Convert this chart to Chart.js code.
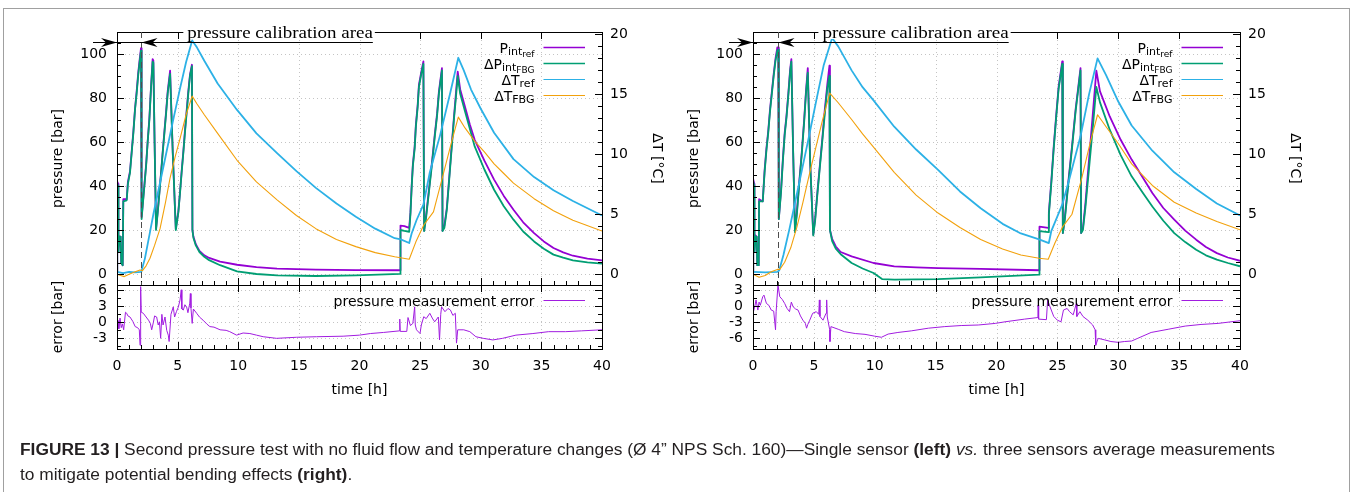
<!DOCTYPE html>
<html>
<head>
<meta charset="utf-8">
<title>Second pressure test</title>
<script src="https://cdn.jsdelivr.net/npm/chart.js@4.4.1/dist/chart.umd.min.js"></script>
<style>
  body { margin: 0; width: 1351px; height: 492px; overflow: hidden; position: relative; background: #fff; }
  canvas { position: absolute; left: 0; top: 0; }
  #frame { position: absolute; left: 3px; top: 8px; width: 1345px; height: 560px; border: 1px solid #a0a0a0; }
  #caption { position: absolute; left: 20px; top: 437px; font: 16px 'Liberation Sans', Arial, sans-serif; line-height: 25px; color: #231f20; white-space: nowrap; transform-origin: 0 0; }
</style>
</head>
<body>
<div id="frame"></div>
<canvas id="mainL" width="1351" height="492"></canvas>
<canvas id="errL" width="1351" height="492"></canvas>
<canvas id="mainR" width="1351" height="492"></canvas>
<canvas id="errR" width="1351" height="492"></canvas>
<div id="caption"><span id="line1"><b>FIGURE 13 |</b> Second pressure test with no fluid flow and temperature changes (Ø 4” NPS Sch. 160)—Single sensor <b>(left)</b> <i>vs.</i> three sensors average measurements</span><br>to mitigate potential bending effects <b>(right)</b>.</div>
<script>
// values, time in hours
const timeTicks = [0, 5, 10, 15, 20, 25, 30, 35, 40];
const pressureTicks = [0, 20, 40, 60, 80, 100];
const tempTicks = [0, 5, 10, 15, 20];
const errTicksL = [-3, 0, 3, 6];
const errTicksR = [-6, -3, 0, 3];

// left panel: single sensor  [t, value]
const pRefL = [[0,0.5],[0.02,42],[0.1,41],[0.12,10],[0.2,17],[0.3,17],[0.35,5],[0.47,4],[0.52,34],[0.8,34],
  [0.9,42],[1.07,46.6],[1.21,55.7],[1.35,64.8],[1.49,75.4],[1.62,83],[1.76,92],[1.88,98],[1.98,102.7],[2.03,26],
  [2.12,31.5],[2.26,40.6],[2.4,49.7],[2.53,60.3],[2.67,70.9],[2.8,84.5],[2.94,97.7],[3.0,97],[3.1,60],[3.22,20.6],
  [3.36,28.5],[3.5,37.5],[3.64,46.6],[3.77,55.7],[3.91,64.8],[4.05,73.9],[4.18,83],[4.38,92.4],[4.6,55],[4.85,20.5],
  [5.06,28.5],[5.2,37.5],[5.33,46.6],[5.47,55.7],[5.6,64.8],[5.74,73.9],[5.88,83],[6.02,90.6],[6.18,95.1],[6.22,20],
  [6.3,17],[6.5,13.5],[6.8,10.5],[7.2,8.5],[7.6,7.3],[8.5,5.6],[9.9,4.2],[11.5,3.1],[13.2,2.4],[16.4,2.0],
  [19.7,1.8],[23.35,1.7],[23.38,22],[23.7,21.8],[24.1,21],[24.2,28],[24.3,40],[24.4,49.7],[24.55,58],[24.65,67.9],
  [24.8,77],[24.9,86],[25.1,92],[25.27,96.6],[25.33,19.7],[25.5,27],[25.8,42],[26.0,52],[26.2,63],[26.4,73],
  [26.55,83],[26.8,93.6],[26.85,19.7],[27.0,22],[27.2,30],[27.5,51],[27.8,72],[27.95,82],[28.1,92],[28.3,84],
  [28.7,76],[29.1,68],[29.5,61],[30.3,51.5],[31.1,42.9],[31.9,35.5],[32.7,29.2],[33.5,23.5],[34.4,18.6],[35.2,14.8],
  [36,11.8],[36.8,9.8],[37.6,8.3],[38.8,7.0],[40,6.2]];
const pFbgL = [[0,0.3],[0.02,41],[0.1,40],[0.12,10],[0.2,17],[0.3,17],[0.35,5],[0.47,4],[0.52,33],[0.8,33.5],
  [0.9,41],[1.07,46],[1.21,55],[1.35,64],[1.49,75],[1.62,82],[1.76,91],[1.88,97],[1.98,101.5],[2.03,25],
  [2.12,31],[2.26,40],[2.4,49],[2.53,60],[2.67,70],[2.8,84],[2.94,96.5],[3.0,96],[3.1,60],[3.22,20],
  [3.36,28],[3.5,37],[3.64,46],[3.77,55],[3.91,64],[4.05,73],[4.18,82],[4.38,91],[4.6,55],[4.85,20],
  [5.06,28],[5.2,37],[5.33,46],[5.47,55],[5.6,64],[5.74,73],[5.88,82],[6.02,90],[6.18,94.5],[6.22,20],
  [6.3,16.5],[6.5,13],[6.8,10],[7.2,7.8],[7.6,6.3],[8.5,4.0],[9.9,1.2],[11.5,0],[13.2,-0.6],[16.4,-0.9],
  [19.7,-0.6],[23.35,0.1],[23.38,20],[23.7,19.6],[24.1,19.2],[24.2,27],[24.3,39],[24.4,49],[24.55,57],[24.65,67],
  [24.8,76],[24.9,85],[25.1,91],[25.27,95.5],[25.33,19.5],[25.5,26],[25.8,41],[26.0,51],[26.2,62],[26.4,72],
  [26.55,82],[26.8,92.5],[26.85,19.5],[27.0,21],[27.2,29],[27.5,50],[27.8,71],[27.95,80],[28.1,90],[28.3,82],
  [28.7,74],[29.1,66],[29.5,58],[30.3,47.5],[31.1,38.3],[31.9,30.8],[32.7,24.7],[33.5,19.3],[34.4,14.8],[35.2,11.5],
  [36,8.8],[36.8,7.4],[37.6,6.2],[38.8,5.3],[40,4.7]];
const tRefL = [[0,0.2],[0.5,0.1],[1,0.2],[1.5,0.15],[2,0.2],[2.3,1.3],[2.7,3.4],[3.0,5.0],[3.5,7.4],[4.0,9.8],
  [4.6,12.7],[5.2,15.5],[5.7,17.7],[6.2,19.5],[6.6,18.9],[7.2,17.8],[8.3,15.9],[9.9,13.7],[11.5,11.75],[13.2,10.1],
  [14.8,8.6],[16.4,7.2],[18.1,5.9],[19.7,4.8],[21.3,3.8],[22.9,3.0],[23.4,2.9],[24.1,2.6],[24.3,3.4],[24.7,4.5],
  [25.27,5.8],[25.8,8.5],[26.65,11.6],[27.5,15.2],[28.15,18.05],[28.6,17.0],[29.2,15.4],[30.0,13.8],[31.1,11.8],[32.7,9.6],
  [34.4,8.1],[36,7.0],[37.6,6.1],[40,4.9]];
const tFbgL = [[0,0],[0.3,-0.1],[0.6,-0.2],[1,0],[1.5,0.2],[1.9,0.35],[2.1,0.3],[2.4,0.7],[2.72,1.33],[3.1,2.4],
  [3.55,3.8],[4.0,6.0],[4.37,8.0],[4.8,9.8],[5.2,11.3],[5.7,13.3],[6.2,14.85],[6.6,14.2],[7.2,13.3],[8.3,11.75],
  [9.9,9.5],[11.5,7.7],[13.2,6.2],[14.8,4.9],[16.4,3.8],[18.1,2.9],[19.7,2.3],[21.3,1.8],[22.9,1.45],[24.1,1.25],
  [24.65,2.7],[25.3,4.1],[26.1,5.2],[26.9,8.3],[27.6,11.05],[28.15,13.1],[28.7,12.2],[29.5,11.1],[30.3,10.2],[31.1,9.2],
  [31.9,8.4],[32.7,7.6],[34.4,6.3],[36,5.3],[37.6,4.5],[40,3.6]];
const errL = [[0,-0.5],[0.1,0.3],[0.15,-1.2],[0.25,0.8],[0.35,-1.0],[0.45,-0.3],[0.55,-1.4],[0.7,1.9],[0.8,1.7],[0.9,1.2],
  [1.07,1.0],[1.3,0.2],[1.5,-0.8],[1.7,-1.0],[1.84,-1.4],[1.9,-4.3],[1.95,6.7],[2.0,1.9],[2.17,1.7],[2.4,1.0],
  [2.6,0.4],[2.75,-0.2],[2.86,-1.4],[3.0,0.0],[3.1,1.2],[3.27,1.0],[3.4,-0.5],[3.5,0.1],[3.6,-3.0],[3.7,1.5],
  [3.8,-0.5],[3.96,1.0],[4.1,-1.5],[4.23,-2.4],[4.3,-3.6],[4.45,1.5],[4.64,2.9],[4.75,1.0],[4.9,2.0],[5.05,2.8],
  [5.2,4.2],[5.3,6.1],[5.35,2.5],[5.47,2.3],[5.6,3.3],[5.74,2.9],[5.85,1.8],[6.0,3.6],[6.05,5.4],[6.1,2.7],
  [6.2,-0.2],[6.3,2.5],[6.57,1.7],[6.8,1.0],[7.1,0.4],[7.4,-0.3],[7.66,-0.8],[8.0,-0.9],[8.5,-1.4],[9.0,-1.5],
  [9.3,-1.75],[9.86,-2.4],[10.4,-2.0],[10.96,-2.1],[11.5,-2.4],[12.06,-2.7],[13.16,-3.0],[14.8,-2.8],[16.46,-2.7],[18.65,-2.6],
  [20.0,-2.4],[20.9,-2.1],[21.97,-1.9],[23.3,-1.6],[23.32,0.6],[23.36,-1.7],[23.9,-1.7],[24.0,0.9],[24.2,-0.6],[24.4,-0.2],
  [24.55,2.9],[24.6,-0.5],[24.7,-1.4],[24.99,-2.1],[25.1,-0.5],[25.3,1.05],[25.5,0.7],[25.8,1.7],[26.0,0.8],[26.2,0.1],
  [26.5,1.0],[26.6,-3.3],[26.7,1.5],[26.77,2.9],[27.05,2.0],[27.3,2.6],[27.5,2.3],[27.7,1.3],[27.9,1.7],[28.0,-3.9],
  [28.1,-1.4],[28.6,-1.4],[29.1,-1.75],[29.6,-2.7],[30.2,-3.0],[31.0,-3.3],[31.8,-3.0],[32.9,-2.4],[34.3,-2.1],[35.6,-1.75],
  [37.0,-1.75],[38.3,-1.6],[40,-1.4]];

// right panel: three sensors average
const pRefR = [[0,0.5],[0.02,43],[0.1,41],[0.12,10],[0.2,17.5],[0.3,17],[0.35,4],[0.47,4],[0.5,34],[0.8,33],
  [0.95,47],[1.1,57],[1.25,65],[1.4,75],[1.55,83],[1.7,91],[1.85,98],[2.0,103],[2.08,103],[2.12,25],
  [2.3,38],[2.45,52],[2.6,64],[2.75,72],[2.9,82],[3.05,93],[3.15,97.7],[3.3,55],[3.45,20],[3.6,28],
  [3.8,42],[4.0,55],[4.2,70],[4.35,83],[4.5,93.6],[4.7,50],[4.95,18],[5.1,25],[5.3,38],[5.5,50],
  [5.7,62],[5.9,75],[6.1,86],[6.28,94.7],[6.32,20],[6.5,16],[6.8,12.5],[7.2,10],[8.1,8.0],[9.9,5.0],
  [11.6,3.5],[13.4,3.0],[15.2,2.7],[18.7,2.3],[23.5,1.7],[23.53,21.5],[24.25,21],[24.3,28],[24.5,42],[24.7,58],
  [24.9,72],[25.1,85],[25.4,96.6],[25.45,18.6],[25.6,25],[25.9,42],[26.2,58],[26.5,75],[26.9,93.6],[26.95,18.6],
  [27.1,21],[27.3,32],[27.6,52],[27.9,72],[28.2,92.4],[28.5,83],[29.3,71.6],[30.2,61],[31.1,52],[32,44],
  [32.8,36.8],[33.7,30],[34.6,24.7],[35.5,19.7],[36.4,15.6],[37.2,12.3],[38.1,9.5],[39,7.5],[40,6]];
const pFbgR = [[0,0.3],[0.02,42],[0.1,40],[0.12,10],[0.2,17],[0.3,17],[0.35,4],[0.47,4],[0.5,33],[0.8,33],
  [0.95,46],[1.1,56],[1.25,64],[1.4,74],[1.55,82],[1.7,90],[1.85,97],[2.0,101.5],[2.08,102],[2.12,25],
  [2.3,37],[2.45,51],[2.6,63],[2.75,71],[2.9,81],[3.05,92],[3.15,96.5],[3.3,55],[3.45,19],[3.6,27],
  [3.8,41],[4.0,54],[4.2,69],[4.35,82],[4.5,91.5],[4.7,50],[4.95,17.5],[5.1,24],[5.3,37],[5.5,49],
  [5.7,61],[5.9,73],[6.1,84],[6.28,90],[6.32,20],[6.5,15],[6.8,11.5],[7.2,9],[8.1,5],[9.0,2.5],
  [9.9,0.45],[10.6,-2.3],[11.6,-2.6],[15.2,-2.3],[18.7,-1.5],[23.5,-0.3],[23.53,19.5],[24.25,19],[24.3,27],[24.5,41],
  [24.7,57],[24.9,71],[25.1,84],[25.4,95.5],[25.45,18.6],[25.6,24],[25.9,41],[26.2,57],[26.5,74],[26.9,92.5],
  [26.95,18.6],[27.1,20],[27.3,30],[27.6,48],[27.9,66],[28.2,85],[28.5,78],[29.3,65.6],[30.2,54],[31.1,44.4],
  [32,37],[32.8,30.7],[33.7,24.2],[34.6,18.6],[35.5,14.5],[36.4,11],[37.2,8.5],[38.1,6.5],[39,5],[40,3.5]];
const tRefR = [[0,0.2],[1,0.15],[2.0,0.2],[2.15,0.3],[2.5,1.6],[3.0,3.8],[3.5,6.2],[4.0,8.6],[4.6,11.5],[5.2,14.5],
  [5.8,17.4],[6.5,19.7],[7.0,19.0],[8.1,17.0],[9.0,15.6],[9.9,14.5],[11.6,12.3],[13.4,10.4],[15.2,8.7],[17,6.9],
  [18.7,5.5],[20.5,4.2],[22,3.4],[23.5,2.9],[24.3,2.6],[24.5,3.6],[25.4,5.8],[26,8.0],[26.9,11.5],[27.6,15],
  [28.3,18.0],[29,16.6],[30,14.4],[31.1,12.4],[32.8,10.3],[34.6,8.5],[36.4,7.1],[38.1,5.9],[40,4.9]];
const tFbgR = [[0,0],[0.5,-0.25],[1,-0.1],[1.5,0.2],[2.0,0.4],[2.2,0.4],[2.6,1.0],[3.1,2.2],[3.6,3.9],[4.1,6.0],
  [4.6,8.2],[5.1,10.3],[5.7,12.8],[6.3,15.1],[7.0,14.3],[8.1,12.9],[9.0,11.7],[9.9,10.6],[11.6,8.5],[13.4,6.6],
  [15.2,5.1],[17,3.9],[18.7,2.9],[20.5,2.1],[22,1.6],[23.5,1.33],[24.25,1.25],[24.8,2.6],[25.4,3.9],[26.2,5.0],
  [27.0,8.0],[27.7,11],[28.3,13.3],[29,12.3],[30,10.9],[31.1,9.2],[32.8,7.4],[34.6,6.0],[36.4,5.1],[38.1,4.4],[40,3.7]];
const errR = [[0,-1.3],[0.14,-0.1],[0.25,1.2],[0.4,-0.7],[0.5,0.8],[0.6,0.2],[0.8,1.8],[0.9,2.1],[1.1,0.55],[1.3,0.2],
  [1.5,-0.7],[1.7,-0.9],[1.85,-4.4],[1.9,-1.0],[2.05,4.0],[2.2,1.8],[2.4,1.3],[2.6,0.55],[2.8,-0.4],[3.0,-1.0],
  [3.15,0.8],[3.3,-0.1],[3.5,-0.5],[3.7,-0.7],[3.9,-1.8],[4.1,-2.6],[4.3,-3.2],[4.4,-4.1],[4.5,-3.4],[4.66,-2.6],
  [4.9,-1.3],[5.2,-1.0],[5.4,-1.5],[5.45,1.2],[5.5,-1.9],[5.75,-2.6],[6.0,-1.3],[6.05,1.2],[6.1,-2.0],[6.3,-4.4],
  [6.32,-6.6],[6.4,-3.8],[7.0,-4.3],[7.5,-4.75],[8.4,-5.1],[9.2,-5.25],[10.0,-5.6],[10.55,-5.8],[11.1,-5.2],[11.9,-4.9],
  [13.0,-4.6],[14.4,-4.1],[15.75,-3.8],[17.1,-3.6],[18.5,-3.5],[19.9,-3.2],[20.7,-2.9],[22.3,-2.4],[23.4,-2.1],[23.42,0.25],
  [23.46,-2.4],[24.1,-2.5],[24.2,1.2],[24.4,-0.1],[24.7,-1.9],[25.0,-2.6],[25.3,-2.9],[25.5,-0.7],[25.8,-0.4],[26.0,-1.0],
  [26.3,-1.6],[26.55,0.5],[26.6,-1.9],[26.85,-1.0],[27.1,-1.9],[27.5,-2.6],[27.9,-3.5],[28.1,-4.4],[28.15,-7.3],[28.35,-6.0],
  [28.9,-6.3],[29.4,-6.6],[30.0,-6.75],[30.5,-6.6],[31.1,-6.5],[31.6,-6.0],[32.2,-5.4],[32.7,-4.9],[34.1,-4.3],[35.5,-3.7],
  [36.8,-3.4],[38.2,-3.2],[40,-2.7]];

const W = 1351, H = 492;
const C = { ref: '#9400d3', fbg: '#009e73', tref: '#2cb1e6', tfbg: '#f2a10c', err: '#a11ce0' };
const FONT = { family: "'DejaVu Sans', sans-serif", size: 14 };

const xy = a => a.map(([x, y]) => ({ x, y }));
const range = (a, b, s, skip) => { const r = []; for (let v = a; v <= b + 1e-9; v += s) if (!skip || Math.abs(v / skip - Math.round(v / skip)) > 1e-6) r.push(+v.toFixed(2)); return r; };
const minorTime = range(0, 40, 1, 5);

function line(data, color, width, axis) {
  return { data: xy(data), borderColor: color, borderWidth: width, pointRadius: 0, fill: false, tension: 0, yAxisID: axis, borderJoinStyle: 'round' };
}

function yAxis(pos, min, max, ticks, title, titlePad, width) {
  return {
    type: 'linear', position: pos, min, max,
    afterBuildTicks: s => { s.ticks = ticks.map(v => ({ value: v })); },
    afterFit: s => { s.width = width; },
    grid: { display: false, drawTicks: false }, border: { display: false },
    ticks: { font: FONT, color: '#000', padding: pos === 'left' ? 10 : 8 },
    title: { display: true, text: title, font: FONT, color: '#000', padding: { top: titlePad, bottom: 0 } }
  };
}

const px = (s, v) => Math.round(s.getPixelForValue(v)) + 0.5;

function marks(ctx, a, s, vals, edge, len) {
  ctx.beginPath();
  vals.forEach(v => {
    const p = px(s, v);
    if (edge === 'top') { ctx.moveTo(p, a.top); ctx.lineTo(p, a.top + len); }
    else if (edge === 'bottom') { ctx.moveTo(p, a.bottom); ctx.lineTo(p, a.bottom - len); }
    else if (edge === 'left') { ctx.moveTo(a.left, p); ctx.lineTo(a.left + len, p); }
    else { ctx.moveTo(a.right, p); ctx.lineTo(a.right - len, p); }
  });
  ctx.stroke();
}

// label with gnuplot style subscripts: [text, level]
function richText(ctx, parts, right, base) {
  const sizes = [14, 11, 9], drops = [0, 2.5, 4.5];
  let w = 0;
  parts.forEach(([s, l]) => { ctx.font = sizes[l] + "px 'DejaVu Sans'"; w += ctx.measureText(s).width; });
  let x = right - w;
  parts.forEach(([s, l]) => { ctx.font = sizes[l] + "px 'DejaVu Sans'"; ctx.fillText(s, x, base + drops[l]); x += ctx.measureText(s).width; });
}

function arrowHead(ctx, xt, y, dir) {
  ctx.beginPath();
  ctx.moveTo(xt, y);
  ctx.lineTo(xt - dir * 16, y - 4.5);
  ctx.lineTo(xt - dir * 11, y);
  ctx.lineTo(xt - dir * 16, y + 4.5);
  ctx.closePath();
  ctx.fill();
}

function drawCalib(chart, c) {
  const { ctx, chartArea: a, scales: { x, y } } = chart;
  const yA = px(y, c.p), x0 = x.getPixelForValue(0), x1 = px(x, c.tMark);
  const xs = x.getPixelForValue(c.tText), xe = x.getPixelForValue(c.tEnd);
  ctx.strokeStyle = '#4d4d4d'; ctx.lineWidth = 1; ctx.setLineDash([6, 4]);
  ctx.beginPath(); ctx.moveTo(x1, a.top); ctx.lineTo(x1, a.bottom); ctx.stroke();
  ctx.setLineDash([]);
  ctx.strokeStyle = '#000'; ctx.fillStyle = '#000'; ctx.lineWidth = 1.2;
  ctx.beginPath(); ctx.moveTo(x0 - 24, yA); ctx.lineTo(xe, yA); ctx.stroke();
  arrowHead(ctx, x0, yA, 1);
  arrowHead(ctx, x1, yA, -1);
  ctx.fillStyle = '#fff';
  ctx.fillRect(xs - 4, a.top - 7, xe - xs + 6, 14);
  ctx.fillStyle = '#000';
  ctx.font = "16.5px 'Liberation Serif', serif";
  ctx.textAlign = 'left'; ctx.textBaseline = 'alphabetic';
  const sx = (xe - xs) / ctx.measureText(c.text).width;
  ctx.save(); ctx.translate(xs, a.top + 5.5); ctx.scale(sx, 1); ctx.fillText(c.text, 0, 0); ctx.restore();
}

const gp = {
  id: 'gp',
  beforeDatasetsDraw(chart, args, o) {
    const { ctx, chartArea: a, scales } = chart;
    ctx.save();
    ctx.strokeStyle = '#c4c4c4'; ctx.lineWidth = 1; ctx.setLineDash([1, 3]);
    ctx.beginPath();
    timeTicks.slice(1, -1).forEach(v => { const p = px(scales.x, v); ctx.moveTo(p, a.top); ctx.lineTo(p, a.bottom); });
    o.gridY.forEach(v => { const p = px(scales.y, v); ctx.moveTo(a.left, p); ctx.lineTo(a.right, p); });
    ctx.stroke();
    ctx.restore();
  },
  afterDatasetsDraw(chart, args, o) {
    const { ctx, chartArea: a, scales } = chart;
    ctx.save();
    ctx.strokeStyle = '#000'; ctx.lineWidth = 1;
    ctx.strokeRect(a.left + 0.5, a.top + 0.5, a.right - a.left, a.bottom - a.top);
    marks(ctx, a, scales.x, timeTicks, 'top', 7);
    marks(ctx, a, scales.x, timeTicks, 'bottom', 7);
    marks(ctx, a, scales.x, minorTime, 'bottom', 4);
    o.sides.forEach(s => {
      marks(ctx, a, scales[s.id], s.major, s.edge, 7);
      marks(ctx, a, scales[s.id], s.minor, s.edge, 4);
    });
    if (o.calib) drawCalib(chart, o.calib);
    ctx.textAlign = 'left'; ctx.textBaseline = 'alphabetic';
    o.legend.forEach((r, i) => {
      const y = a.top + 15.5 + 16 * i;
      ctx.strokeStyle = r.color; ctx.lineWidth = r.width;
      ctx.beginPath(); ctx.moveTo(a.right - 58.5, y); ctx.lineTo(a.right - 17, y); ctx.stroke();
      ctx.fillStyle = '#000';
      richText(ctx, r.label, a.right - 67.5, y + 5);
    });
    ctx.restore();
  }
};

function mainChart(id, area, sets, calib, padL, padR) {
  const lw = 80, rw = 70;
  return new Chart(document.getElementById(id), {
    type: 'line',
    data: { datasets: [
      line(sets.tFbg, C.tfbg, 1.1, 'y2'),
      line(sets.tRef, C.tref, 1.8, 'y2'),
      line(sets.pFbg, C.fbg, 1.8, 'y'),
      line(sets.pRef, C.ref, 1.8, 'y')
    ] },
    options: {
      responsive: false, animation: false, events: [],
      layout: { padding: { left: area.l - lw, right: W - area.r - rw, top: area.t, bottom: H - area.b } },
      scales: {
        x: { type: 'linear', min: 0, max: 40, display: false },
        y: yAxis('left', -5, 110, pressureTicks, 'pressure [bar]', padL, lw),
        y2: yAxis('right', -0.9, 20.2, tempTicks, 'ΔT [°C]', padR, rw)
      },
      plugins: {
        legend: { display: false }, tooltip: { enabled: false },
        gp: {
          gridY: pressureTicks,
          sides: [
            { id: 'y', edge: 'left', major: pressureTicks, minor: range(5, 105, 5, 20) },
            { id: 'y2', edge: 'right', major: tempTicks, minor: range(1, 19, 1, 5) }
          ],
          calib,
          legend: [
            { label: [['P', 0], ['int', 1], ['ref', 2]], color: C.ref, width: 1.5 },
            { label: [['ΔP', 0], ['int', 1], ['FBG', 2]], color: C.fbg, width: 1.5 },
            { label: [['ΔT', 0], ['ref', 1]], color: C.tref, width: 1.2 },
            { label: [['ΔT', 0], ['FBG', 1]], color: C.tfbg, width: 1.1 }
          ]
        }
      }
    },
    plugins: [gp]
  });
}

function errChart(id, area, data, min, max, ticks, minor, padL) {
  const lw = 80, bh = 55;
  return new Chart(document.getElementById(id), {
    type: 'line',
    data: { datasets: [line(data, C.err, 1, 'y')] },
    options: {
      responsive: false, animation: false, events: [],
      layout: { padding: { left: area.l - lw, right: W - area.r, top: area.t, bottom: H - area.b - bh } },
      scales: {
        x: {
          type: 'linear', min: 0, max: 40,
          afterBuildTicks: s => { s.ticks = timeTicks.map(v => ({ value: v })); },
          afterFit: s => { s.height = bh; },
          grid: { display: false, drawTicks: false }, border: { display: false },
          ticks: { font: FONT, color: '#000', padding: 9, maxRotation: 0, autoSkip: false },
          title: { display: true, text: 'time [h]', font: FONT, color: '#000', padding: { top: 0, bottom: 5.6 } }
        },
        y: yAxis('left', min, max, ticks, 'error [bar]', padL, lw)
      },
      plugins: {
        legend: { display: false }, tooltip: { enabled: false },
        gp: {
          gridY: ticks,
          sides: [
            { id: 'y', edge: 'left', major: ticks, minor },
            { id: 'y', edge: 'right', major: ticks, minor }
          ],
          legend: [{ label: [['pressure measurement error', 0]], color: C.err, width: 1.2 }]
        }
      }
    },
    plugins: [gp]
  });
}

const calibText = 'pressure calibration area';
mainChart('mainL', { l: 117, t: 32, r: 602, b: 285 },
  { pRef: pRefL, pFbg: pFbgL, tRef: tRefL, tFbg: tFbgL },
  { p: 105.5, tMark: 1.95, tText: 5.8, tEnd: 21.1, text: calibText }, 12.6, 6.6);
errChart('errL', { l: 117, t: 285, r: 602, b: 349 }, errL, -5, 7, errTicksL, [-4.5, -1.5, 1.5, 4.5], 12.6);
mainChart('mainR', { l: 753, t: 32, r: 1240, b: 285 },
  { pRef: pRefR, pFbg: pFbgR, tRef: tRefR, tFbg: tFbgR },
  { p: 105.5, tMark: 2.08, tText: 5.7, tEnd: 21.0, text: calibText }, 12.6, 6.6);
errChart('errR', { l: 753, t: 285, r: 1240, b: 349 }, errR, -8, 4, errTicksR, [-7.5, -4.5, -1.5, 1.5], 12.6);

// caption: stretch the first line to the width it has in the figure
const cap = document.getElementById('caption');
const w1 = document.getElementById('line1').getBoundingClientRect().width;
cap.style.transform = 'scaleX(' + (1255 / w1).toFixed(4) + ')';
</script>
</body>
</html>
